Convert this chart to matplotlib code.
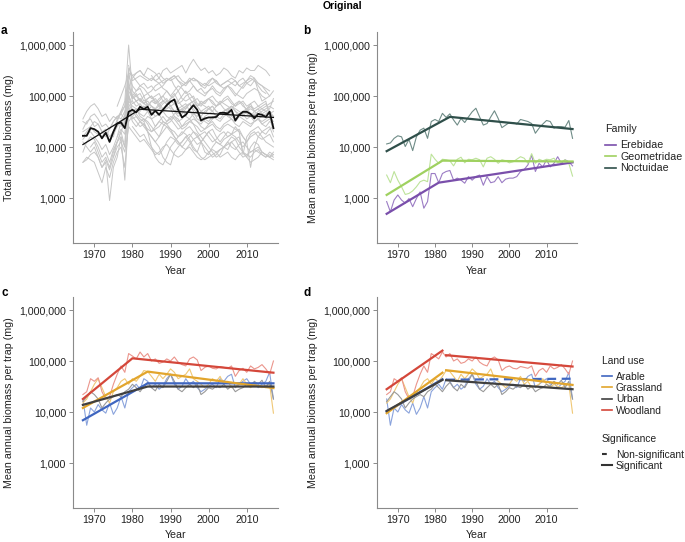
import numpy as np
import matplotlib
matplotlib.use("Agg")
import matplotlib.pyplot as plt
from matplotlib.lines import Line2D
from matplotlib.ticker import FixedLocator, NullLocator

plt.rcParams["font.family"] = ["Liberation Sans", "DejaVu Sans"]
plt.rcParams["font.size"] = 7.5

years = np.arange(1967, 2018)

# ---- panel a: per-site totals, log10(mg); (first year, values)
site_logs = [
    (1980, [5.35,5.45,5.5,5.4,5.55,5.5,5.45,5.35,5.5,5.55,5.45,5.5,5.55,5.6,5.45,5.6,5.72,5.6,5.5,5.55,5.45,5.5,5.4,5.45,5.55,5.5,5.4,5.35,5.5,5.45,5.55,5.5,5.5,5.6,5.55,5.5,5.4]),
    (1979, [5.6,5.3,5.35,5.4,5.35,5.3,5.35,5.3,5.25,5.3,5.35,5.3,5.35,5.4,5.3,5.25,5.35,5.3,5.3,5.2,5.25,5.2,5.25,5.3,5.2,5.25,5.3,5.25,5.2,5.3,5.35,5.25,5.2,5.3,5.25,5.2,5.1,5.0]),
    (1976, [4.8,5.0,5.2,5.45,5.4,5.3,5.2,5.25,5.15,5.2,5.1,5.15,5.2,5.3,5.35,5.2,5.1,5.2,5.25,5.3,5.2,5.1,5.15,5.05,5.1,5.2,5.1,5.05,5.15,5.2,5.1,5.0,5.1,5.2,5.3,5.4,5.35,5.1,4.9,4.95,5.0,5.1]),
    (1975, [4.2,4.5,4.7,4.9,6.0,5.1,5.0,4.9,5.0,4.8,4.9,4.85,4.95,5.0,4.9,4.8,4.85,4.9,5.0,5.1,4.95,4.85,4.8,4.9,4.85,4.95,4.9,4.8,4.85,4.9,4.95,4.85,4.8,4.9,4.85,4.7,4.8,4.75,4.8,4.85,4.9,4.6,4.5]),
    (1967, [4.55,4.7,4.8,4.85,4.75,4.6,4.65,4.5,4.6,4.55,4.7,4.8,5.2,5.0,4.9,4.95,4.85,4.9,4.8,4.75,4.85,4.9,4.95,4.8,4.7,4.75,4.8,4.85,4.7,4.65,4.6,4.7,4.75,4.8,4.7,4.6,4.65,4.7,4.75,4.8,4.7,4.65,4.6,4.7,4.75,4.7,4.6,4.65,4.7,4.75,4.95]),
    (1967, [4.3,4.35,4.4,4.3,4.25,4.2,4.3,4.1,4.25,4.4,4.5,4.45,4.9,4.8,4.75,4.7,4.8,4.75,4.7,4.6,4.65,4.7,4.8,4.75,4.6,4.5,4.55,4.65,4.7,4.6,4.5,4.45,4.55,4.5,4.6,4.55,4.5,4.6,4.65,4.55,4.5,4.6,4.55,4.5,4.45,4.5,4.55,4.45,4.5,4.55,4.6]),
    (1967, [3.7,3.8,3.75,3.7,3.5,3.3,3.6,3.4,3.7,3.9,4.0,3.6,4.5,4.6,4.5,4.4,4.45,4.3,4.2,4.1,4.2,4.3,4.4,4.35,4.2,4.1,4.0,4.1,4.2,4.3,4.25,4.1,3.9,3.85,4.0,4.1,4.05,4.0,3.95,4.1,4.15,4.2,3.9,3.8,4.0,4.1,4.05,3.9,3.85,3.8,3.75]),
    (1967, [4.1,4.0,3.9,4.0,3.8,3.6,3.7,2.95,3.6,3.8,4.2,3.35,4.6,4.7,4.65,4.55,4.5,4.6,4.55,4.4,4.5,4.6,4.5,4.55,4.45,4.35,4.4,4.5,4.55,4.45,4.4,4.3,4.35,4.4,4.45,4.35,4.3,4.4,4.45,4.4,4.35,4.3,3.85,4.2,4.3,4.35,4.4,4.3,4.25,4.35,4.4]),
    (1967, [4.35,4.5,4.55,4.4,4.45,4.3,4.2,4.35,4.5,4.6,4.55,4.7,5.1,4.95,5.0,5.05,4.9,4.95,5.0,4.85,4.9,5.0,5.1,5.0,4.95,4.85,4.9,5.0,5.05,4.95,4.8,4.85,4.9,4.95,5.0,4.9,4.85,4.95,5.0,4.9,4.8,4.85,4.9,4.8,4.85,4.9,4.8,4.75,4.8,4.85,4.9]),
    (1967, [3.9,4.1,4.2,4.15,4.0,3.8,3.9,3.7,3.95,4.1,4.3,4.0,4.8,4.55,4.6,4.5,4.55,4.45,4.3,4.35,4.4,4.5,4.45,4.35,4.3,4.2,4.25,4.35,4.4,4.3,4.2,4.25,4.3,4.2,4.1,4.15,4.25,4.3,4.2,4.25,4.3,4.35,4.2,4.1,4.25,4.3,4.2,4.15,4.2,4.25,4.1]),
    (1967, [4.15,4.25,4.3,4.2,4.1,3.95,4.05,3.85,4.0,4.2,4.35,4.25,5.3,4.9,4.8,4.85,4.75,4.7,4.8,4.75,4.65,4.7,4.75,4.8,4.7,4.6,4.65,4.75,4.85,4.7,4.55,4.5,4.6,4.65,4.7,4.6,4.55,4.65,4.7,4.6,4.55,4.6,4.65,4.55,4.6,4.65,4.55,4.5,4.55,4.6,4.3]),
    (1975, [3.8,4.1,4.3,4.5,5.0,4.7,4.6,4.5,4.4,4.3,4.2,4.1,4.0,3.8,3.7,3.65,3.9,4.0,4.1,4.2,4.1,3.95,3.9,3.8,3.75,3.8,3.85,3.9,3.95,4.0,4.05,4.1,4.0,3.9,3.8,3.85,3.9,3.95,4.0,3.9,3.85,3.8,3.9]),
    (1976, [4.2,4.5,4.6,5.2,4.95,5.05,4.9,4.85,4.95,5.0,4.9,4.8,4.9,4.85,4.95,5.05,4.9,4.8,4.75,4.85,4.9,4.95,4.85,4.8,4.75,4.7,4.8,4.85,4.75,4.7,4.8,4.75,4.7,4.65,4.75,4.8,4.7,4.65,4.7,4.75,4.8,4.75]),
    (1977, [4.4,4.6,5.4,5.2,5.1,5.15,5.0,5.05,4.95,5.0,5.05,4.9,4.85,4.95,5.0,5.1,4.95,4.9,4.95,5.0,4.85,4.8,4.9,4.95,4.85,4.8,4.9,4.85,4.8,4.75,4.85,4.9,4.8,4.75,4.85,4.7,4.75,4.8,4.85,4.7]),
    (1978, [4.1,5.05,4.7,4.75,4.6,4.55,4.5,4.4,4.3,4.2,4.4,4.5,4.6,4.55,4.45,4.35,4.4,4.5,4.45,4.3,4.2,4.1,4.0,3.9,3.8,3.85,4.0,4.1,4.2,4.15,4.0,3.9,3.8,3.7,3.75,3.8,3.9,3.85,3.8,3.85]),
    (1983, [4.5,4.3,4.0,3.8,3.7,3.65,3.8,4.0,4.1,4.2,4.3,4.25,4.15,4.0,3.9,4.1,4.2,4.3,4.35,4.2,4.1,4.2,4.3,4.25,4.4,4.3,4.2,4.1,3.6,4.0,4.2,4.3,4.35,4.4,4.2]),
    (1980, [4.6,4.7,4.75,4.8,4.7,4.65,4.75,4.8,4.7,4.6,4.55,4.65,4.7,4.75,4.6,4.55,4.65,4.7,4.6,4.5,4.45,4.55,4.6,4.65,4.7,4.6,4.55,4.5,4.6,4.65,4.7,4.6,4.5,4.55,4.6,4.65,4.7,4.6]),
    (1969, [4.0,4.1,3.9,3.7,3.8,3.6,3.9,4.1,4.2,4.0,4.7,4.5,4.4,4.5,4.45,4.35,4.3,4.4,4.5,4.45,4.4,4.3,4.2,4.1,4.0,3.95,4.05,4.15,4.2,4.1,4.0,3.9,3.8,3.85,3.95,4.0,4.1,4.0,3.95,4.05,4.1,4.0,3.9,3.95,3.9,3.85,3.8,3.85,3.8]),
    (1980, [5.0,5.1,5.2,5.15,5.05,5.1,5.2,5.25,5.15,5.1,5.0,5.1,5.2,5.15,5.05,5.1,5.2,5.1,5.05,5.0,5.1,5.15,5.05,5.0,5.1,5.2,5.15,5.05,5.0,4.95,5.05,5.1,5.15,5.1,5.0,4.95]),
    (1985, [5.4,5.3,5.35,5.25,5.3,5.35,5.4,5.3,5.25,5.2,5.3,5.35,5.3,5.2,5.15,5.25,5.35,5.3,5.2,5.25,5.3,5.35,5.3,5.2,5.25,5.3,5.35,5.3,5.2,5.1,5.05]),
    (1967, [4.2,4.3,4.4,4.5,4.45,4.3,4.35,4.2,4.3,4.45,4.5,4.6,4.85,4.7,4.75,4.65,4.6,4.7,4.55,4.6,4.65,4.5,4.45,4.5,4.6,4.55,4.4,4.45,4.5,4.55,4.5,4.4,4.35,4.45,4.5,4.4,4.35,4.45,4.5,4.55,4.45,4.4,4.5,4.45,4.4,4.5,4.55,4.45,4.4,4.5,4.45]),
    (1967, [3.7,3.75,3.85,3.9,3.8,3.6,3.75,3.55,3.8,4.0,4.1,3.9,4.4,4.3,4.2,4.1,4.15,4.05,3.95,3.85,3.9,4.0,4.05,3.95,3.85,3.8,3.85,3.95,4.0,3.9,3.8,3.75,3.8,3.9,3.95,3.9,3.8,3.85,3.9,3.8,3.75,3.85,3.9,3.85,3.8,3.9,3.95,3.85,3.8,3.9,3.85]),
    (1975, [4.3,4.55,4.65,4.8,5.5,5.0,4.9,4.95,4.85,4.8,4.9,4.95,4.85,4.75,4.8,4.9,4.85,4.75,4.7,4.8,4.85,4.9,4.8,4.7,4.65,4.75,4.8,4.7,4.65,4.7,4.75,4.8,4.7,4.6,4.7,4.75,4.65,4.6,4.7,4.75,4.7,4.65,4.6]),
    (1980, [4.4,4.3,4.2,4.25,4.1,4.0,3.9,3.85,3.95,4.1,4.2,4.15,4.05,4.1,4.2,4.25,4.15,4.05,4.1,4.2,4.3,4.2,4.1,4.05,4.15,4.2,4.25,4.2,4.1,4.0,4.1,4.2,4.25,4.3,4.2,4.1,4.05,4.0]),
    (1978, [4.5,5.55,5.4,5.45,5.5,5.4,5.35,5.3,5.4,5.45,5.35,5.3,5.35,5.4,5.3,5.2,5.25,5.3,5.35,5.3,5.25,5.2,5.3,5.35,5.25,5.2,5.15,5.2,5.25,5.3,5.2,5.15,5.25,5.3,5.35,5.25,5.2,5.15,5.1]),
    (1967, [4.5,4.45,4.6,4.65,4.55,4.4,4.45,4.35,4.5,4.6,4.65,4.55,5.0,4.85,4.9,4.8,4.75,4.85,4.8,4.7,4.75,4.85,4.9,4.8,4.7,4.65,4.75,4.8,4.85,4.75,4.65,4.6,4.7,4.75,4.8,4.7,4.65,4.7,4.75,4.65,4.6,4.65,4.7,4.65,4.6,4.7,4.75,4.65,4.6,4.65,4.7]),
]
mean_log = [4.22,4.22,4.37,4.35,4.30,4.17,4.28,4.10,4.30,4.46,4.48,4.37,4.69,4.73,4.68,4.79,4.74,4.79,
            4.63,4.71,4.63,4.73,4.82,4.89,4.93,4.73,4.58,4.63,4.73,4.82,4.73,4.52,4.56,4.58,4.58,4.59,
            4.67,4.67,4.66,4.73,4.52,4.63,4.69,4.69,4.65,4.56,4.65,4.63,4.59,4.69,4.37]
fit_a_years = [1967, 1982, 2017]
fit_a_vals = [11200, 55000, 38000]

# ---- panel b: family means, log10(mg)
families = ["Erebidae", "Geometridae", "Noctuidae"]
fam_colors = {"Erebidae": "#7a4fab", "Geometridae": "#9fd160", "Noctuidae": "#2f4f4a"}
fam_thin = {"Erebidae": "#9b7cc4", "Geometridae": "#bde39a", "Noctuidae": "#6f8c87"}
fam_log = {
    "Noctuidae": [4.06,4.08,4.17,4.22,4.20,4.01,4.15,3.93,4.20,4.33,4.37,4.17,4.50,4.54,4.50,4.66,4.58,4.65,
                  4.53,4.43,4.56,4.48,4.59,4.69,4.76,4.59,4.43,4.46,4.59,4.71,4.56,4.38,4.43,4.48,4.48,4.45,
                  4.54,4.52,4.50,4.46,4.27,4.37,4.45,4.52,4.50,4.37,4.40,4.40,4.39,4.52,4.17],
    "Geometridae": [3.45,3.30,3.52,3.35,3.22,3.07,3.09,3.14,3.22,3.32,3.35,3.32,3.86,3.76,3.68,3.76,3.75,3.73,
                    3.63,3.76,3.80,3.69,3.76,3.75,3.78,3.75,3.61,3.78,3.81,3.76,3.68,3.75,3.73,3.69,3.71,3.76,
                    3.81,3.78,3.68,3.87,3.68,3.76,3.73,3.76,3.75,3.78,3.69,3.71,3.75,3.68,3.43],
    "Erebidae": [2.93,2.73,2.96,3.06,2.96,2.90,2.99,2.83,2.99,3.12,2.80,2.93,3.48,3.48,3.30,3.48,3.52,3.54,
                 3.35,3.39,3.35,3.29,3.42,3.35,3.42,3.45,3.25,3.42,3.30,3.32,3.42,3.30,3.37,3.39,3.39,3.42,
                 3.52,3.56,3.65,3.84,3.52,3.68,3.61,3.75,3.61,3.68,3.81,3.68,3.75,3.71,3.63],
}
fam_fit = {
    "Noctuidae": ([1967, 1984, 2017], [8300, 39000, 22500]),
    "Geometridae": ([1967, 1982, 2017], [1150, 5400, 5200]),
    "Erebidae": ([1967, 1981, 2017], [490, 2000, 5000]),
}

# ---- panels c/d: land use means (mg)
landuse = ["Arable", "Grassland", "Urban", "Woodland"]
lu_colors = {"Arable": "#3f66c0", "Grassland": "#e2a52c", "Urban": "#404040", "Woodland": "#d4473a"}
lu_thin = {"Arable": "#8aa3dc", "Grassland": "#f0c875", "Urban": "#999999", "Woodland": "#eb958c"}
lu_vals = {
    "Woodland": [22000,25000,45000,40000,47000,25000,18000,20000,35000,55000,80000,60000,140000,125000,110000,
                 150000,120000,140000,100000,110000,90000,95000,110000,100000,120000,95000,85000,80000,110000,
                 120000,105000,65000,75000,80000,72000,70000,78000,75000,72000,80000,50000,65000,72000,60000,
                 80000,70000,75000,85000,70000,55000,100000],
    "Grassland": [15000,18000,25000,35000,45000,30000,20000,15000,25000,30000,40000,45000,35000,45000,40000,
                  50000,65000,62000,50000,40000,55000,45000,55000,70000,60000,45000,50000,55000,70000,45000,
                  40000,35000,30000,35000,45000,40000,50000,35000,40000,30000,32000,35000,45000,35000,30000,
                  35000,32000,30000,33000,35000,9500],
    "Urban": [16000,20000,25000,22000,18000,12000,15000,18000,20000,22000,20000,25000,28000,35000,30000,25000,
              32000,38000,30000,26000,35000,30000,40000,55000,40000,28000,25000,30000,35000,30000,35000,22000,
              25000,30000,28000,32000,30000,35000,28000,32000,25000,28000,30000,35000,32000,40000,35000,42000,
              30000,40000,18000],
    "Arable": [18000,5500,12000,10000,14000,11000,9500,15000,9000,12000,20000,12000,25000,30000,35000,28000,
               45000,40000,30000,35000,28000,32000,45000,55000,35000,28000,32000,45000,35000,40000,30000,25000,
               28000,32000,35000,30000,45000,40000,50000,55000,30000,35000,40000,45000,35000,38000,30000,35000,
               40000,60000,18000],
}
# panel c fits: one segmented line per land use
fit_c = {
    "Arable": ([1967, 1984, 2017], [6900, 36500, 36500]),
    "Grassland": ([1967, 1984, 2017], [12000, 62000, 29500]),
    "Urban": ([1967, 1984, 2017], [13800, 31600, 31600]),
    "Woodland": ([1967, 1980, 2017], [18000, 113000, 59000]),
}
# panel d fits: broken segments, (years, values, significant)
fit_d = {
    "Arable": [([1967, 1982], [10200, 44000], True), ([1983, 2017], [43000, 45000], False)],
    "Grassland": [([1967, 1982], [9500, 59000], True), ([1983, 2017], [66000, 34000], True)],
    "Urban": [([1967, 1982], [10500, 42500], True), ([1983, 2017], [42000, 28000], True)],
    "Woodland": [([1967, 1982], [28000, 160000], True), ([1983, 2017], [130000, 78000], True)],
}

yticks = [1e3, 1e4, 1e5, 1e6]
ytick_labels = ["1,000", "10,000", "100,000", "1,000,000"]

W, H = 685, 542
fig = plt.figure(figsize=(W / 100, H / 100), dpi=100)


def make_ax(left, top, right, bottom):
    ax = fig.add_axes([left / W, 1 - bottom / H, (right - left) / W, (bottom - top) / H])
    ax.set_yscale("log")
    ax.set_ylim(10 ** 2.118, 10 ** 6.255)
    ax.set_xlim(1964.4, 2018.2)
    ax.yaxis.set_major_locator(FixedLocator(yticks))
    ax.set_yticklabels(ytick_labels)
    ax.yaxis.set_minor_locator(NullLocator())
    ax.set_xticks([1970, 1980, 1990, 2000, 2010])
    for s in ["top", "right"]:
        ax.spines[s].set_visible(False)
    for s in ["left", "bottom"]:
        ax.spines[s].set_color("#8a8a8a")
        ax.spines[s].set_linewidth(0.8)
    ax.tick_params(length=3, width=0.7, color="#8a8a8a", labelcolor="#222222", labelsize=7.7, pad=2)
    ax.set_xlabel("Year", color="#222222", labelpad=4, fontsize=7.7)
    return ax


def legend_block(handles, labels, title, x, y_title, y_first, size=7.7, pad=0.45):
    # title drawn as text so the gap to the entries matches the reference
    fig.text(x / W, 1 - y_title / H, title, fontsize=size, va="center", ha="left", color="#222222")
    fig.legend(handles, labels, loc="upper left", bbox_to_anchor=(x / W, 1 - (y_first - 5.5) / H),
               frameon=False, handlelength=1.0, handletextpad=pad, labelspacing=0.14,
               borderpad=0, borderaxespad=0, fontsize=size, labelcolor="#222222")


# a
ax = make_ax(73, 32, 278, 243)
for start, vals in site_logs:
    yrs = start + np.arange(len(vals))
    ax.plot(yrs, 10 ** np.array(vals), color="#c6c6c6", lw=0.7)
ax.plot(years, 10 ** np.array(mean_log), color="#111111", lw=1.3)
ax.plot(fit_a_years, fit_a_vals, color="#111111", lw=0.9)
ax.set_ylabel("Total annual biomass (mg)", color="#222222", fontsize=7.7)

# b
ax = make_ax(377, 32, 577, 243)
for f in families:
    ax.plot(years, 10 ** np.array(fam_log[f]), color=fam_thin[f], lw=0.8)
for f in families:
    ax.plot(fam_fit[f][0], fam_fit[f][1], color=fam_colors[f], lw=1.6)
ax.set_ylabel("Mean annual biomass per trap (mg)", color="#222222", fontsize=7.7)
legend_block([Line2D([], [], color=fam_colors[f], lw=1.2) for f in families], families,
             "Family", 605, 129, 146)

# c
ax = make_ax(73, 297, 278, 508)
for lu in landuse:
    ax.plot(years, lu_vals[lu], color=lu_thin[lu], lw=0.8)
for lu in ["Woodland", "Arable", "Grassland", "Urban"]:
    ax.plot(fit_c[lu][0], fit_c[lu][1], color=lu_colors[lu], lw=1.6)
ax.set_ylabel("Mean annual biomass per trap (mg)", color="#222222", fontsize=7.7)

# d
ax = make_ax(377, 297, 577, 508)
for lu in landuse:
    ax.plot(years, lu_vals[lu], color=lu_thin[lu], lw=0.8)
for lu in ["Woodland", "Arable", "Grassland", "Urban"]:
    for yrs, vals, sig in fit_d[lu]:
        ax.plot(yrs, vals, color=lu_colors[lu], lw=1.6,
                linestyle="-" if sig else (0, (4, 2.5)))
ax.set_ylabel("Mean annual biomass per trap (mg)", color="#222222", fontsize=7.7)
legend_block([Line2D([], [], color=lu_colors[lu], lw=1.2) for lu in landuse], landuse,
             "Land use", 602, 361, 377, size=7.4, pad=0.35)
legend_block([Line2D([], [], color="#333333", lw=1.5, dashes=(2.3, 6)),
              Line2D([], [], color="#333333", lw=1.5)],
             ["Non-significant", "Significant"], "Significance", 602, 439, 455, size=7.4, pad=0.35)

# panel letters and title
for letter, x, y in [("a", 1, 31), ("b", 303, 31), ("c", 1, 293), ("d", 303, 293)]:
    fig.text(x / W, 1 - y / H, letter, fontsize=8.5, fontweight="bold", va="center", ha="left")
fig.text(0.5, 1 - 6 / H, "Original", fontsize=7.5, fontweight="bold", va="center", ha="center")

fig.savefig("out.png", dpi=100)
